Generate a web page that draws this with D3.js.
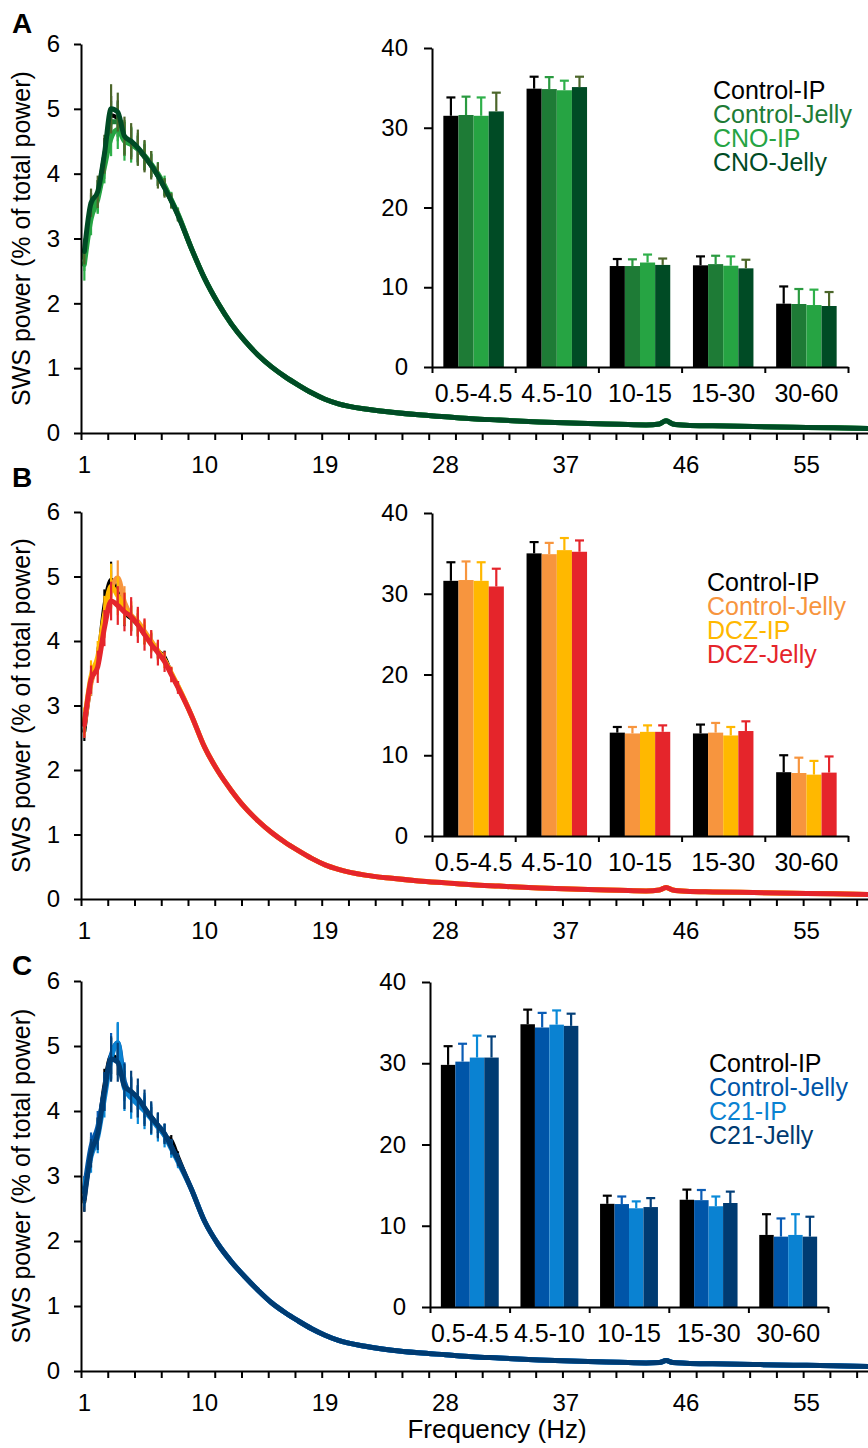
<!DOCTYPE html>
<html>
<head>
<meta charset="utf-8">
<script src="https://cdn.jsdelivr.net/npm/d3@7"></script>
<style>
  body { margin: 0; background: #fff; }
  text { font-family: "Liberation Sans", Arial, sans-serif; fill: #000; }
  .domain, .tick line { stroke: #000; stroke-width: 2; }
</style>
</head>
<body>
<svg id="chart" width="868" height="1448"></svg>
<script>
// ---- shared axes data ----
const freqHead = [1, 1.5, 2, 2.5, 3, 3.5, 4, 4.5, 5, 5.5, 6, 6.5, 7, 7.5, 8];
const freqTail = [9, 10, 11, 12, 13, 14, 15, 16, 17, 18, 19, 20, 22, 24, 26, 28, 30, 32, 35, 38, 41, 43, 44, 44.5, 45, 46, 48, 51, 54, 57, 59.6];
const xTickLabels = [1, 10, 19, 28, 37, 46, 55];
const yTicks = [0, 1, 2, 3, 4, 5, 6];
const bandLabels = ['0.5-4.5', '4.5-10', '10-15', '15-30', '30-60'];
const insetTicks = [0, 10, 20, 30, 40];

// ---- panel A (CNO) ----
const namesA = ['Control-IP', 'Control-Jelly', 'CNO-IP', 'CNO-Jelly'];
const colorsA = ['#000000', '#1e7b36', '#26a443', '#004b25'];
const errColorsA = ['#000000', '#2a9a40', '#2fb04a', '#4c662a'];
const headA = [
  [2.75, 3.5, 3.7, 4.3, 4.9, 4.85, 4.55, 4.48, 4.38, 4.25, 4.12, 3.96, 3.78, 3.58, 3.36],
  [2.7, 3.45, 3.65, 4.2, 4.8, 4.8, 4.55, 4.47, 4.38, 4.26, 4.13, 3.97, 3.79, 3.59, 3.37],
  [2.6, 3.3, 3.6, 4.1, 4.55, 4.68, 4.5, 4.45, 4.38, 4.28, 4.15, 4.0, 3.82, 3.6, 3.38],
  [2.8, 3.55, 3.72, 4.3, 5.0, 4.95, 4.58, 4.5, 4.4, 4.27, 4.13, 3.97, 3.78, 3.58, 3.36]
];
const semA = [
  [0.15, 0.2, 0.2, 0.25, 0.3, 0.28, 0.25, 0.22, 0.2, 0.2, 0.18, 0.15, 0.12, 0.1, 0.08],
  [0.2, 0.22, 0.25, 0.28, 0.32, 0.3, 0.28, 0.25, 0.22, 0.2, 0.18, 0.16, 0.14, 0.12, 0.1],
  [0.25, 0.25, 0.22, 0.25, 0.28, 0.3, 0.3, 0.28, 0.25, 0.22, 0.2, 0.18, 0.15, 0.12, 0.1],
  [0.2, 0.22, 0.25, 0.3, 0.38, 0.3, 0.3, 0.28, 0.28, 0.25, 0.22, 0.2, 0.15, 0.12, 0.1]
];
const tailA = [2.85, 2.38, 2.0, 1.68, 1.42, 1.2, 1.02, 0.87, 0.74, 0.62, 0.52, 0.45, 0.37, 0.32, 0.28, 0.25, 0.22, 0.2, 0.17, 0.15, 0.135, 0.125, 0.14, 0.19, 0.14, 0.12, 0.11, 0.1, 0.09, 0.08, 0.07];
const bandMeanA = [
  [31.5, 34.9, 12.66, 12.75, 7.94],
  [31.6, 34.85, 12.66, 12.9, 7.9],
  [31.5, 34.7, 13.1, 12.7, 7.77],
  [32.05, 35.1, 12.8, 12.37, 7.65]
];
const bandSemA = [
  [2.3, 1.5, 0.88, 1.12, 2.16],
  [2.3, 1.5, 0.84, 1.05, 1.88],
  [2.3, 1.2, 1.0, 1.17, 1.93],
  [2.35, 1.3, 0.8, 1.08, 1.75]
];

// ---- panel B (DCZ) ----
const namesB = ['Control-IP', 'Control-Jelly', 'DCZ-IP', 'DCZ-Jelly'];
const colorsB = ['#000000', '#f7953e', '#ffb800', '#e5252b'];
const errColorsB = ['#000000', '#f7953e', '#ffb800', '#e5252b'];
const headB = [
  [2.6, 3.35, 3.7, 4.55, 4.95, 4.75, 4.45, 4.35, 4.25, 4.1, 3.98, 3.85, 3.75, 3.5, 3.3],
  [2.7, 3.35, 3.7, 4.3, 4.8, 4.98, 4.6, 4.4, 4.3, 4.15, 4.0, 3.85, 3.7, 3.5, 3.3],
  [2.75, 3.45, 3.75, 4.4, 4.85, 4.7, 4.5, 4.38, 4.28, 4.12, 3.98, 3.84, 3.7, 3.5, 3.3],
  [2.7, 3.4, 3.6, 4.2, 4.62, 4.55, 4.45, 4.38, 4.25, 4.1, 3.95, 3.82, 3.68, 3.48, 3.28]
];
const semB = [
  [0.15, 0.2, 0.2, 0.25, 0.28, 0.25, 0.22, 0.2, 0.18, 0.15, 0.14, 0.12, 0.1, 0.08, 0.08],
  [0.2, 0.2, 0.22, 0.25, 0.28, 0.27, 0.25, 0.22, 0.2, 0.18, 0.16, 0.14, 0.12, 0.1, 0.08],
  [0.22, 0.25, 0.25, 0.3, 0.35, 0.3, 0.25, 0.22, 0.2, 0.18, 0.16, 0.14, 0.12, 0.1, 0.08],
  [0.2, 0.22, 0.25, 0.28, 0.3, 0.3, 0.3, 0.3, 0.28, 0.25, 0.22, 0.2, 0.16, 0.12, 0.1]
];
const tailB = [2.85, 2.35, 1.98, 1.68, 1.42, 1.21, 1.03, 0.88, 0.75, 0.63, 0.53, 0.46, 0.37, 0.32, 0.28, 0.25, 0.22, 0.2, 0.17, 0.15, 0.135, 0.125, 0.14, 0.18, 0.14, 0.12, 0.11, 0.1, 0.09, 0.08, 0.07];
const bandMeanB = [
  [31.6, 35.0, 12.8, 12.7, 7.9],
  [31.7, 34.9, 12.7, 12.8, 7.8],
  [31.6, 35.4, 12.9, 12.45, 7.6],
  [30.9, 35.2, 12.9, 13.0, 7.85]
];
const bandSemB = [
  [2.3, 1.4, 0.7, 1.1, 2.1],
  [2.3, 1.4, 0.8, 1.2, 1.9],
  [2.3, 1.5, 0.8, 1.05, 1.7],
  [2.2, 1.4, 0.8, 1.2, 2.0]
];

// ---- panel C (C21) ----
const namesC = ['Control-IP', 'Control-Jelly', 'C21-IP', 'C21-Jelly'];
const colorsC = ['#000000', '#0055a8', '#0a82d2', '#003b72'];
const errColorsC = ['#000000', '#0a5cb5', '#0a8ad8', '#04407a'];
const headC = [
  [2.6, 3.4, 3.7, 4.4, 4.85, 4.8, 4.4, 4.3, 4.2, 4.05, 3.92, 3.78, 3.62, 3.55, 3.3],
  [2.8, 3.45, 3.75, 4.3, 4.85, 5.05, 4.45, 4.25, 4.15, 4.02, 3.9, 3.78, 3.65, 3.45, 3.25],
  [2.75, 3.3, 3.6, 4.2, 4.8, 5.05, 4.35, 4.2, 4.1, 4.0, 3.88, 3.75, 3.62, 3.42, 3.22],
  [2.65, 3.35, 3.65, 4.3, 4.8, 4.75, 4.38, 4.3, 4.2, 4.05, 3.9, 3.78, 3.65, 3.45, 3.25]
];
const semC = [
  [0.15, 0.2, 0.2, 0.25, 0.28, 0.25, 0.22, 0.2, 0.18, 0.16, 0.14, 0.12, 0.1, 0.08, 0.08],
  [0.2, 0.22, 0.25, 0.3, 0.35, 0.3, 0.3, 0.28, 0.25, 0.22, 0.2, 0.18, 0.15, 0.12, 0.1],
  [0.22, 0.25, 0.25, 0.3, 0.32, 0.32, 0.35, 0.32, 0.3, 0.28, 0.25, 0.22, 0.18, 0.14, 0.1],
  [0.2, 0.22, 0.25, 0.3, 0.35, 0.3, 0.35, 0.32, 0.3, 0.28, 0.25, 0.2, 0.16, 0.12, 0.1]
];
const tailC = [2.8, 2.3, 1.95, 1.68, 1.45, 1.24, 1.05, 0.9, 0.77, 0.65, 0.55, 0.47, 0.38, 0.32, 0.28, 0.25, 0.22, 0.2, 0.17, 0.15, 0.135, 0.125, 0.13, 0.16, 0.13, 0.12, 0.11, 0.1, 0.09, 0.08, 0.07];
const bandMeanC = [
  [29.8, 34.8, 12.7, 13.2, 8.87],
  [30.2, 34.4, 12.67, 13.15, 8.66],
  [30.7, 34.75, 12.15, 12.4, 8.87],
  [30.7, 34.6, 12.3, 12.8, 8.66]
];
const bandSemC = [
  [2.3, 1.8, 1.0, 1.25, 2.55],
  [2.2, 1.8, 0.93, 1.25, 2.24],
  [2.7, 1.75, 0.85, 1.2, 2.55],
  [2.6, 1.5, 1.1, 1.4, 2.45]
];

const svg = d3.select('#chart');

const panels = [
  { letter: 'A', letterY: 33, names: namesA, colors: colorsA, errColors: errColorsA, head: headA, sem: semA, tail: tailA,
    bandMean: bandMeanA, bandSem: bandSemA, top: 44, bottom: 433,
    inset: { x0: 432, x1: 848, top: 48, bottom: 367 }, legend: { x: 713, y: 90 } },
  { letter: 'B', letterY: 487, names: namesB, colors: colorsB, errColors: errColorsB, head: headB, sem: semB, tail: tailB,
    bandMean: bandMeanB, bandSem: bandSemB, top: 512, bottom: 899,
    inset: { x0: 432, x1: 848, top: 513, bottom: 836 }, legend: { x: 707, y: 582 } },
  { letter: 'C', letterY: 975, names: namesC, colors: colorsC, errColors: errColorsC, head: headC, sem: semC, tail: tailC,
    bandMean: bandMeanC, bandSem: bandSemC, top: 981, bottom: 1371,
    inset: { x0: 430, x1: 828, top: 982, bottom: 1307 }, legend: { x: 709, y: 1063 } }
];

const x = d3.scaleLinear().domain([0.75, 59.6]).range([81, 868]);
const minorTicks = d3.range(0.75, 59.6, 2);

panels.forEach(p => {
  const g = svg.append('g');
  const y = d3.scaleLinear().domain([0, 6]).range([p.bottom, p.top]);

  // panel letter
  g.append('text').attr('x', 12).attr('y', p.letterY)
    .attr('font-size', 28).attr('font-weight', 'bold').text(p.letter);

  // y title
  g.append('text')
    .attr('transform', `translate(30,${(p.top + p.bottom) / 2}) rotate(-90)`)
    .attr('text-anchor', 'middle').attr('font-size', 25)
    .text('SWS power (% of total power)');

  // spectra
  const line = d3.line().x(d => x(d[0])).y(d => y(d[1])).curve(d3.curveMonotoneX);
  p.names.forEach((name, i) => {
    const pts = freqHead.map((f, k) => [f, p.head[i][k]])
      .concat(freqTail.map((f, k) => [f, p.tail[k]]));
    g.append('g')
      .selectAll('line')
      .data(freqHead.map((f, k) => ({ f: f, v: p.head[i][k], e: p.sem[i][k] })))
      .enter()
      .append('line')
      .attr('x1', d => x(d.f)).attr('x2', d => x(d.f))
      .attr('y1', d => y(d.v - d.e)).attr('y2', d => y(d.v + d.e))
      .attr('stroke', p.errColors[i]).attr('stroke-width', 2.2);
    g.append('path')
      .datum(pts)
      .attr('d', line)
      .attr('fill', 'none')
      .attr('stroke', p.colors[i])
      .attr('stroke-width', i === 0 ? 4 : 5)
      .attr('stroke-linejoin', 'round')
      .attr('stroke-linecap', 'round');
  });

  // axes
  g.append('g')
    .attr('transform', `translate(0,${p.bottom})`)
    .call(d3.axisBottom(x).tickValues(minorTicks).tickSize(7).tickSizeOuter(0).tickFormat(''));
  g.append('g')
    .attr('transform', 'translate(81,0)')
    .call(d3.axisLeft(y).tickValues(yTicks).tickSize(7).tickSizeOuter(0).tickPadding(14).tickFormat(d3.format('d')))
    .selectAll('text').attr('font-size', 24);
  g.append('g')
    .selectAll('text')
    .data(xTickLabels)
    .enter()
    .append('text')
    .attr('x', d => x(d))
    .attr('y', p.bottom + 40)
    .attr('text-anchor', 'middle')
    .attr('font-size', 24)
    .text(d => d);

  // inset bar chart
  const ins = p.inset;
  const xb = d3.scaleBand().domain(bandLabels).range([ins.x0, ins.x1]);
  const xs = d3.scaleBand().domain(d3.range(4)).range([0, xb.bandwidth()]).paddingOuter(0.75);
  const yb = d3.scaleLinear().domain([0, 40]).range([ins.bottom, ins.top]);
  const gi = g.append('g');

  p.names.forEach((name, i) => {
    const bars = bandLabels.map((b, k) => ({ b: b, v: p.bandMean[i][k], e: p.bandSem[i][k] }));
    gi.append('g').selectAll('rect')
      .data(bars).enter().append('rect')
      .attr('x', d => xb(d.b) + xs(i))
      .attr('width', xs.bandwidth())
      .attr('y', d => yb(d.v))
      .attr('height', d => yb(0) - yb(d.v))
      .attr('fill', p.colors[i]);
    const eg = gi.append('g').attr('stroke', p.errColors[i]).attr('stroke-width', 2.2);
    eg.selectAll('line.v')
      .data(bars).enter().append('line').attr('class', 'v')
      .attr('x1', d => xb(d.b) + xs(i) + xs.bandwidth() / 2)
      .attr('x2', d => xb(d.b) + xs(i) + xs.bandwidth() / 2)
      .attr('y1', d => yb(d.v)).attr('y2', d => yb(d.v + d.e));
    eg.selectAll('line.cap')
      .data(bars).enter().append('line').attr('class', 'cap')
      .attr('x1', d => xb(d.b) + xs(i) + xs.bandwidth() / 2 - 4.5)
      .attr('x2', d => xb(d.b) + xs(i) + xs.bandwidth() / 2 + 4.5)
      .attr('y1', d => yb(d.v + d.e)).attr('y2', d => yb(d.v + d.e));
  });

  gi.append('g')
    .attr('transform', `translate(${ins.x0},0)`)
    .call(d3.axisLeft(yb).tickValues(insetTicks).tickSize(8).tickSizeOuter(0).tickPadding(16))
    .selectAll('text').attr('font-size', 24);
  const edge = d3.scaleLinear().domain([0, bandLabels.length]).range([ins.x0, ins.x1]);
  gi.append('g')
    .attr('transform', `translate(0,${ins.bottom})`)
    .call(d3.axisBottom(edge).tickValues(d3.range(0, bandLabels.length + 1)).tickSize(6).tickSizeOuter(0).tickFormat(''));
  const labAxis = gi.append('g')
    .attr('transform', `translate(0,${ins.bottom})`)
    .call(d3.axisBottom(xb).tickSize(0).tickPadding(17));
  labAxis.select('.domain').remove();
  labAxis.selectAll('text').attr('font-size', 25);

  // legend
  g.append('g')
    .selectAll('text')
    .data(p.names)
    .enter()
    .append('text')
    .attr('x', p.legend.x)
    .attr('y', (d, i) => p.legend.y + i * 24)
    .attr('dy', '0.35em')
    .attr('font-size', 25)
    .style('fill', (d, i) => p.colors[i])
    .text(d => d);
});

svg.append('text')
  .attr('x', 497).attr('y', 1438)
  .attr('text-anchor', 'middle').attr('font-size', 26)
  .text('Frequency (Hz)');
</script>
</body>
</html>
